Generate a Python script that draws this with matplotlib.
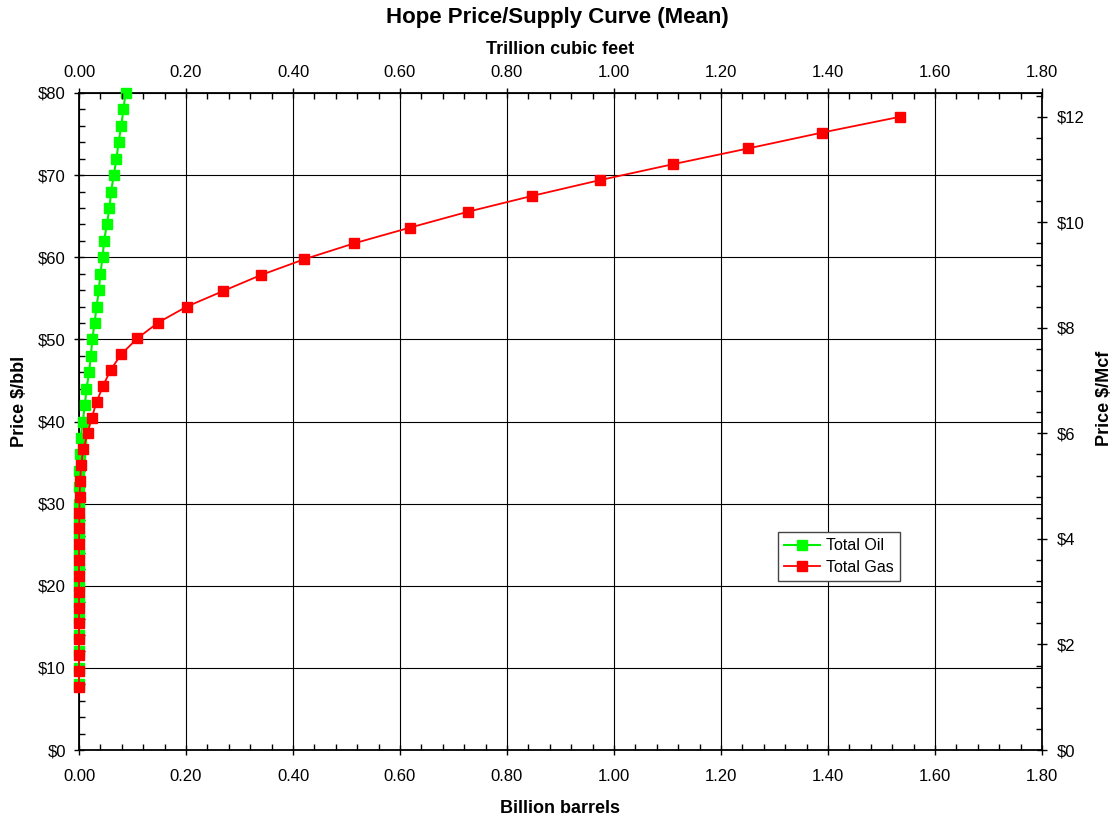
import matplotlib
matplotlib.use("Agg")
import matplotlib.pyplot as plt
from matplotlib.ticker import MultipleLocator, FuncFormatter

plt.rcParams['font.family'] = ['Liberation Sans', 'DejaVu Sans']

# oil: price $/bbl vs billion barrels
oil_price = [8, 10, 12, 14, 16, 18, 20, 22, 24, 26, 28, 30, 32, 34, 36, 38, 40, 42, 44,
             46, 48, 50, 52, 54, 56, 58, 60, 62, 64, 66, 68, 70, 72, 74, 76, 78, 80]
oil_volume = [0.0, 0.0, 0.0, 0.0, 0.0, 0.0, 0.0, 0.0, 0.0, 0.0, 0.0, 0.0, 0.0, 0.0005,
              0.001, 0.003, 0.007, 0.011, 0.014, 0.019, 0.022, 0.025, 0.029, 0.033, 0.037,
              0.040, 0.044, 0.047, 0.052, 0.057, 0.060, 0.065, 0.070, 0.074, 0.079, 0.083, 0.087]

# gas: price $/Mcf vs trillion cubic feet
gas_price = [1.2, 1.5, 1.8, 2.1, 2.4, 2.7, 3.0, 3.3, 3.6, 3.9, 4.2, 4.5, 4.8, 5.1, 5.4,
             5.7, 6.0, 6.3, 6.6, 6.9, 7.2, 7.5, 7.8, 8.1, 8.4, 8.7, 9.0, 9.3, 9.6, 9.9,
             10.2, 10.5, 10.8, 11.1, 11.4, 11.7, 12.0]
gas_volume = [0.0, 0.0, 0.0, 0.0, 0.0, 0.0, 0.0, 0.0, 0.0, 0.0, 0.0005, 0.0008, 0.001,
              0.002, 0.004, 0.008, 0.016, 0.024, 0.033, 0.045, 0.059, 0.079, 0.109, 0.148,
              0.201, 0.270, 0.340, 0.421, 0.514, 0.619, 0.727, 0.847, 0.974, 1.110, 1.251,
              1.389, 1.535]

fig = plt.figure(figsize=(11.14, 8.18), dpi=100)
pos = [79 / 1114, 1 - 750 / 818, (1042 - 79) / 1114, (750 - 93) / 818]

# main axes: bottom / left (oil)
ax = fig.add_axes(pos)
ax.set_xlim(0, 1.8)
ax.set_ylim(0, 80)
ax.xaxis.set_major_locator(MultipleLocator(0.2))
ax.xaxis.set_minor_locator(MultipleLocator(0.04))
ax.yaxis.set_major_locator(MultipleLocator(10))
ax.yaxis.set_minor_locator(MultipleLocator(2))
ax.xaxis.set_major_formatter(FuncFormatter(lambda v, p: f"{v:.2f}"))
ax.yaxis.set_major_formatter(FuncFormatter(lambda v, p: f"${v:.0f}"))
ax.grid(True, which='major', color='black', linewidth=0.8)
ax.set_axisbelow(True)
ax.tick_params(which='major', direction='inout', length=7, width=1, labelsize=12, color='black')
ax.tick_params(axis='x', which='major', pad=10)
ax.tick_params(axis='y', which='major', pad=6)
ax.tick_params(which='minor', direction='in', length=4, width=1)
for s in ax.spines.values():
    s.set_linewidth(1.3)

l1, = ax.plot(oil_volume, oil_price, color='#00ee00', linewidth=1.5, marker='s',
              markersize=7.5, markerfacecolor='#00ff00', markeredgecolor='#00ff00',
              label='Total Oil', clip_on=False, zorder=3)
ax.set_xlabel('Billion barrels', fontsize=13, fontweight='bold', labelpad=12)
ax.set_ylabel('Price $/bbl', fontsize=13, fontweight='bold', labelpad=6)
ax.yaxis.set_label_coords(-0.053, 0.53)

# second axes: top / right (gas)
ax2 = fig.add_axes(pos, frameon=False)
ax2.patch.set_visible(False)
ax2.set_xlim(0, 1.8)
ax2.set_ylim(0, 12.45)
ax2.xaxis.tick_top()
ax2.xaxis.set_label_position('top')
ax2.yaxis.tick_right()
ax2.yaxis.set_label_position('right')
ax2.xaxis.set_major_locator(MultipleLocator(0.2))
ax2.xaxis.set_minor_locator(MultipleLocator(0.04))
ax2.yaxis.set_major_locator(MultipleLocator(2))
ax2.yaxis.set_minor_locator(MultipleLocator(0.4))
ax2.xaxis.set_major_formatter(FuncFormatter(lambda v, p: f"{v:.2f}"))
ax2.yaxis.set_major_formatter(FuncFormatter(lambda v, p: f"${v:.0f}"))
ax2.tick_params(which='major', direction='inout', length=7, width=1, labelsize=12)
ax2.tick_params(axis='x', which='major', pad=6)
ax2.tick_params(axis='y', which='major', pad=7)
ax2.tick_params(which='minor', direction='in', length=4, width=1)

l2, = ax2.plot(gas_volume, gas_price, color='red', linewidth=1.3, marker='s',
               markersize=7.5, markerfacecolor='red', markeredgecolor='red',
               label='Total Gas', clip_on=False, zorder=3)
ax2.set_xlabel('Trillion cubic feet', fontsize=13, fontweight='bold', labelpad=8)
ax2.set_ylabel('Price $/Mcf', fontsize=13, fontweight='bold', labelpad=10)
ax2.yaxis.set_label_coords(1.056, 0.535)

leg = ax2.legend(handles=[l1, l2], loc='upper left', bbox_to_anchor=(778 / 1114, 1 - 532 / 818),
                 bbox_transform=fig.transFigure, borderaxespad=0, fancybox=False,
                 framealpha=1, edgecolor='#444444', fontsize=11.5, handlelength=2.2,
                 handletextpad=0.4, labelspacing=0.4, borderpad=0.4)
leg.get_frame().set_linewidth(1)

fig.suptitle('Hope Price/Supply Curve (Mean)', fontsize=16, fontweight='bold',
             y=1 - 17 / 818, va='center')

fig.savefig('out.png', dpi=100)
